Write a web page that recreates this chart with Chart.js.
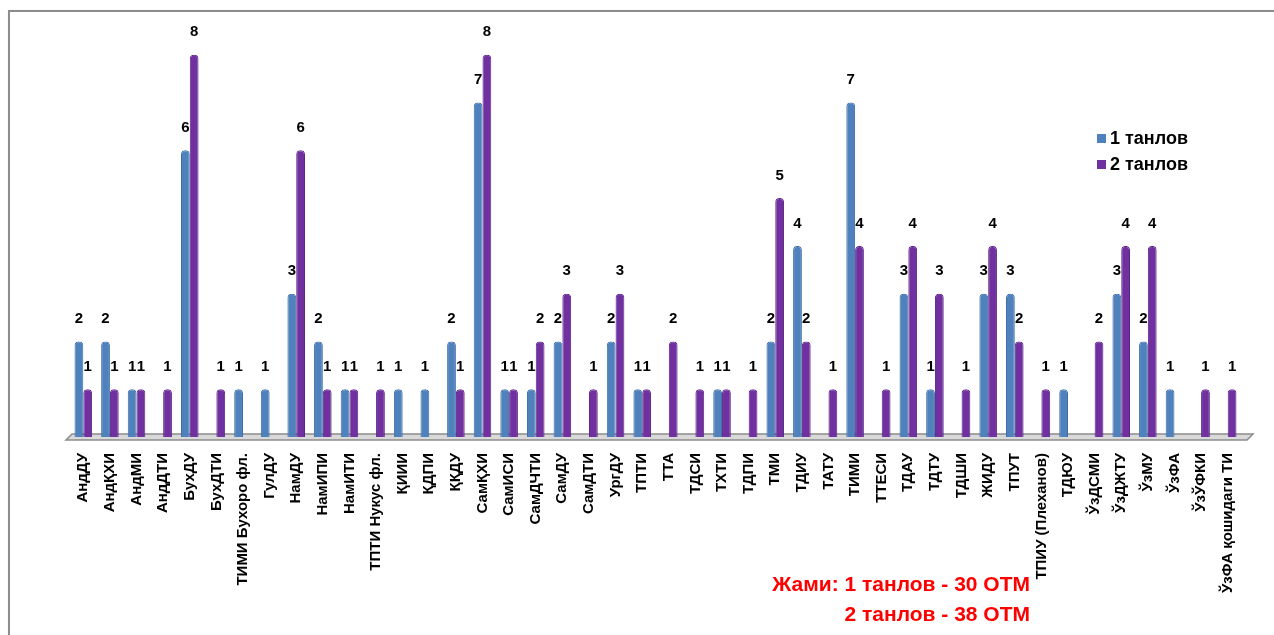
<!DOCTYPE html>
<html>
<head>
<meta charset="utf-8">
<script src="https://cdn.jsdelivr.net/npm/chart.js@4.4.0/dist/chart.umd.min.js"></script>
<style>
  html, body { margin: 0; padding: 0; background: #fff; }
  body { width: 1274px; height: 635px; overflow: hidden; position: relative; font-family: "Liberation Sans", Arial, sans-serif; }
  #frame { position: absolute; left: 8px; top: 10px; width: 1280px; height: 640px; border: 2px solid #8c8c8c; box-shadow: 1px 1px 2px #bbb; }
  #wrap { position: absolute; left: 0; top: 0; width: 1274px; height: 635px; }
  #legend { position: absolute; left: 1097px; top: 127px; font-weight: bold; font-size: 18px; color: #000; }
  #legend div { height: 26px; line-height: 22px; }
  #legend span.sw { display: inline-block; width: 9px; height: 9px; margin-right: 4px; vertical-align: 1px; }
  .total { position: absolute; right: 244px; color: #ff0000; font-weight: bold; font-size: 21px; white-space: nowrap; }
</style>
</head>
<body>
<div id="frame"></div>
<div id="wrap"><canvas id="chart" width="1274" height="635"></canvas></div>
<div id="legend">
  <div><span class="sw" style="background:#4f81bd"></span>1 танлов</div>
  <div><span class="sw" style="background:#7030a0"></span>2 танлов</div>
</div>
<div class="total" style="top:572px">Жами: 1 танлов - 30 ОТМ</div>
<div class="total" style="top:602px">2 танлов - 38 ОТМ</div>
<script>
const categories = ['АндДУ', 'АндҚХИ', 'АндМИ', 'АндДТИ', 'БухДУ', 'БухДТИ', 'ТИМИ Бухоро фл.', 'ГулДУ', 'НамДУ', 'НамИПИ', 'НамИТИ', 'ТПТИ Нукус фл.', 'ҚИИИ', 'ҚДПИ', 'ҚҚДУ', 'СамҚХИ', 'СамИСИ', 'СамДЧТИ', 'СамДУ', 'СамДТИ', 'УргДУ', 'ТПТИ', 'ТТА', 'ТДСИ', 'ТХТИ', 'ТДПИ', 'ТМИ', 'ТДИУ', 'ТАТУ', 'ТИМИ', 'ТТЕСИ', 'ТДАУ', 'ТДТУ', 'ТДШИ', 'ЖИДУ', 'ТПУТ', 'ТПИУ (Плеханов)', 'ТДЮУ', 'ЎзДСМИ', 'ЎзДЖТУ', 'ЎзМУ', 'ЎзФА', 'ЎзЎФКИ', 'ЎзФА қошидаги ТИ'];
const tanlov1 = [2, 2, 1, null, 6, null, 1, 1, 3, 2, 1, null, 1, 1, 2, 7, 1, 1, 2, null, 2, 1, null, null, 1, null, 2, 4, null, 7, null, 3, 1, null, 3, 3, null, 1, null, 3, 2, 1, null, null];
const tanlov2 = [1, 1, 1, 1, 8, 1, null, null, 6, 1, 1, 1, null, null, 1, 8, 1, 2, 3, 1, 3, 1, 2, 1, 1, 1, 5, 2, 1, 4, 1, 4, 3, 1, 4, 2, 1, null, 2, 4, 4, null, 1, 1];

// value labels above each bar
const valueLabels = {
  id: 'valueLabels',
  afterDatasetsDraw(chart) {
    const ctx = chart.ctx;
    ctx.save();
    ctx.font = 'bold 15px "Liberation Sans", Arial, sans-serif';
    ctx.fillStyle = '#000';
    ctx.textAlign = 'center';
    ctx.textBaseline = 'bottom';
    chart.data.datasets.forEach((ds, i) => {
      chart.getDatasetMeta(i).data.forEach((bar, j) => {
        if (ds.data[j] == null) return;
        ctx.fillText(ds.data[j], bar.x, bar.y - 15);
      });
    });
    ctx.restore();
  }
};

// flat 3d-ish floor under the bars
const floor = {
  id: 'floor',
  beforeDatasetsDraw(chart) {
    const a = chart.chartArea, ctx = chart.ctx;
    ctx.save();
    ctx.fillStyle = '#d9d9d9';
    ctx.strokeStyle = '#8c8c8c';
    ctx.lineWidth = 1.5;
    ctx.beginPath();
    ctx.moveTo(a.left + 2, a.bottom - 3);
    ctx.lineTo(a.right + 12, a.bottom - 3);
    ctx.lineTo(a.right + 6, a.bottom + 3);
    ctx.lineTo(a.left - 4, a.bottom + 3);
    ctx.closePath();
    ctx.fill();
    ctx.stroke();
    ctx.restore();
  }
};

new Chart(document.getElementById('chart'), {
  type: 'bar',
  data: {
    labels: categories,
    datasets: [
      { label: '1 танлов', data: tanlov1, backgroundColor: '#4f81bd', borderColor: '#3c6ea8', borderWidth: 1, borderRadius: { topLeft: 4, topRight: 4 }, borderSkipped: 'bottom' },
      { label: '2 танлов', data: tanlov2, backgroundColor: '#7030a0', borderColor: '#5d2488', borderWidth: 1, borderRadius: { topLeft: 4, topRight: 4 }, borderSkipped: 'bottom' }
    ]
  },
  options: {
    responsive: false,
    animation: false,
    layout: { padding: { top: 7, left: 70, right: 33, bottom: 0 } },
    datasets: { bar: { categoryPercentage: 0.66, barPercentage: 1 } },
    plugins: { legend: { display: false }, tooltip: { enabled: false } },
    scales: {
      x: {
        grid: { display: false },
        border: { display: false },
        ticks: {
          color: '#000',
          font: { family: '"Liberation Sans", Arial, sans-serif', size: 15, weight: 'bold' },
          minRotation: 90, maxRotation: 90, autoSkip: false, padding: 8
        },
        afterFit(axis) { axis.height = 635 - 437; }
      },
      y: { display: false, min: 0, max: 9 }
    }
  },
  plugins: [floor, valueLabels]
});
</script>
</body>
</html>
